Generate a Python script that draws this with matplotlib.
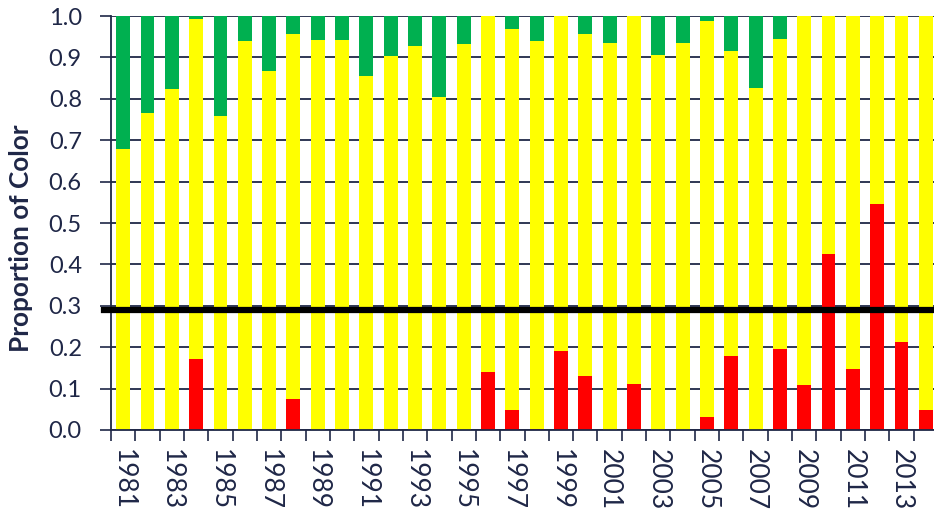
import matplotlib
import matplotlib.pyplot as plt
import numpy as np

matplotlib.use("Agg")

# Proportion of colour per year (stacked: red bottom, yellow middle, green top)
YEARS = list(range(1981, 2015))
RED = [0.0, 0.0, 0.0, 0.171, 0.0, 0.0, 0.0, 0.076, 0.0, 0.0,
       0.0, 0.0, 0.0, 0.0, 0.0, 0.140, 0.048, 0.002, 0.191, 0.131,
       0.0, 0.110, 0.0, 0.0, 0.031, 0.178, 0.0, 0.195, 0.109, 0.426,
       0.148, 0.547, 0.212, 0.049]
RED_PLUS_YELLOW = [0.679, 0.766, 0.824, 0.993, 0.758, 0.940, 0.866, 0.956, 0.943, 0.942,
                   0.855, 0.904, 0.928, 0.805, 0.932, 1.0, 0.968, 0.940, 1.0, 0.956,
                   0.935, 1.0, 0.905, 0.935, 0.989, 0.916, 0.825, 0.944, 1.0, 1.0,
                   1.0, 1.0, 1.0, 1.0]
THRESHOLD = 0.29

NAVY = "#1F2747"
C_RED = "#FF0000"
C_YELLOW = "#FFFF00"
C_GREEN = "#00B050"

plt.rcParams["font.family"] = ["Lato", "DejaVu Sans"]

red = np.array(RED)
yellow = np.array(RED_PLUS_YELLOW) - red
green = 1.0 - np.array(RED_PLUS_YELLOW)
x = np.arange(len(YEARS))

fig = plt.figure(figsize=(9.34, 5.09), dpi=100)
ax = fig.add_axes([111 / 934, 1 - 430 / 509, (938 - 111) / 934, (430 - 16) / 509])

width = 0.57
ax.bar(x, red, width, color=C_RED, zorder=2)
ax.bar(x, yellow, width, bottom=red, color=C_YELLOW, zorder=2)
ax.bar(x, green, width, bottom=red + yellow, color=C_GREEN, zorder=2)

ax.axhline(THRESHOLD, xmin=-0.008, xmax=1.0, color="black", linewidth=4.5,
           clip_on=False, zorder=3)

ax.set_xlim(-0.5, len(YEARS) - 0.5)
ax.set_ylim(0, 1.0)
ax.set_yticks(np.arange(0, 1.01, 0.1))
ax.set_yticklabels([f"{v:.1f}" for v in np.arange(0, 1.01, 0.1)])
ax.yaxis.grid(True, color=NAVY, linewidth=1.3, zorder=0)
ax.set_axisbelow(True)

# year labels on every other bar, ticks on category boundaries
ax.set_xticks(x[::2])
ax.set_xticklabels([str(y) for y in YEARS[::2]], rotation=-90)
ax.set_xticks(np.arange(-0.5, len(YEARS)), minor=True)
ax.tick_params(axis="x", which="major", length=0, pad=14, labelsize=19)
ax.tick_params(axis="x", which="minor", length=8, width=1.2, color=NAVY)
ax.tick_params(axis="y", length=8, width=1.2, color=NAVY, pad=13, labelsize=17)
ax.tick_params(labelcolor=NAVY)

for side in ["top", "right"]:
    ax.spines[side].set_visible(False)
for side in ["left", "bottom"]:
    ax.spines[side].set_color(NAVY)
    ax.spines[side].set_linewidth(1.3)

ax.set_ylabel("Proportion of Color", fontsize=18.8, fontweight="bold", color=NAVY)
ax.yaxis.set_label_coords(-0.094, 0.464)

fig.savefig("out.png", dpi=100)
plt.close(fig)
